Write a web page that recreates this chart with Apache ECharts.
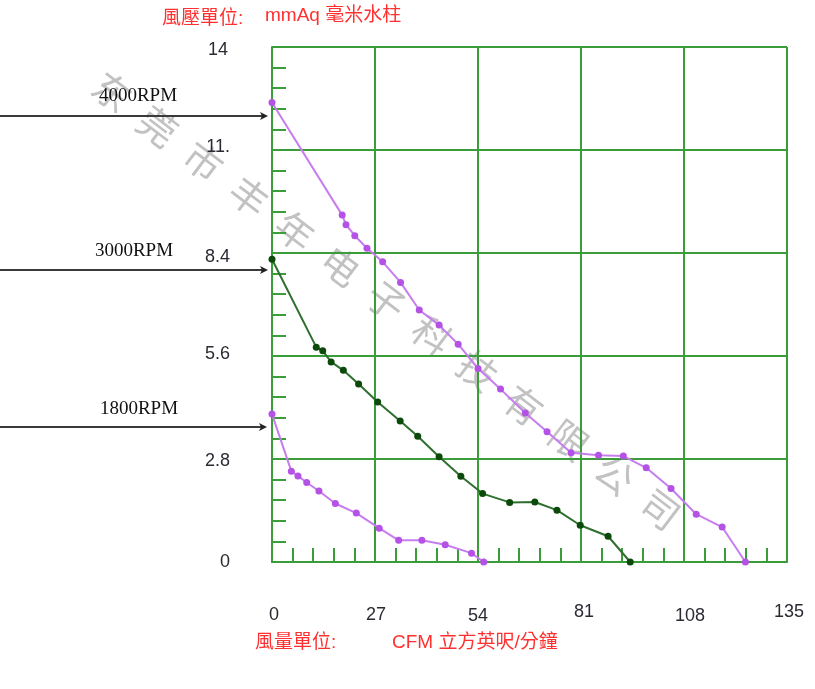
<!DOCTYPE html>
<html>
<head>
<meta charset="utf-8">
<script src="https://cdn.jsdelivr.net/npm/echarts@6/dist/echarts.min.js"></script>
<style>html,body{margin:0;padding:0;background:#fff;}#c{width:815px;height:689px;}</style>
</head>
<body>
<div id="c"></div>
<script>
// ---- data ----
const xTickLabels = ['0', '27', '54', '81', '108', '135'];
const yTickLabels = ['0', '2.8', '5.6', '8.4', '11.', '14'];
const seriesNames = ['4000RPM', '3000RPM', '1800RPM'];

const rpm4000X = [0, 18.4, 19.4, 21.7, 24.9, 29.0, 33.7, 38.6, 43.8, 48.8, 54.0, 59.9, 66.4, 72.1, 78.4, 85.6, 92.1, 98.1, 104.6, 111.2, 118.0, 124.1];
const rpm4000Y = [12.49, 9.43, 9.17, 8.87, 8.53, 8.16, 7.60, 6.85, 6.44, 5.92, 5.26, 4.70, 4.05, 3.54, 2.97, 2.90, 2.88, 2.56, 2.00, 1.30, 0.95, 0];

const rpm3000X = [0, 11.6, 13.3, 15.5, 18.7, 22.7, 27.7, 33.6, 38.2, 43.8, 49.5, 55.2, 62.3, 68.9, 74.7, 80.8, 88.1, 93.9];
const rpm3000Y = [8.23, 5.84, 5.74, 5.44, 5.21, 4.84, 4.35, 3.83, 3.42, 2.86, 2.33, 1.86, 1.62, 1.63, 1.41, 1.00, 0.70, 0];

const rpm1800X = [0, 5.07, 6.8, 9.1, 12.3, 16.6, 22.1, 28.1, 33.2, 39.3, 45.4, 52.3, 55.5];
const rpm1800Y = [4.02, 2.47, 2.34, 2.16, 1.93, 1.59, 1.33, 0.92, 0.59, 0.59, 0.47, 0.24, 0];

const watermarkText = '东莞市丰年电子科技有限公司';

// ---- style / layout ----
const GRID_GREEN = '#3a9d3a';
const RED = '#ff3030';
const LABEL_COLOR = '#2a2a33';
const xNudge = [[2, 0], [1, 0], [0, 1], [3, -3], [6, 1], [2, -3]];
const yNudge = [[0, 0], [0, 2], [1, -2], [0, 4], [0, -3], [-2, 3]];

function pts(xs, ys) { return xs.map((x, i) => [x, ys[i]]); }

function richFor(nudges, axis) {
  const r = {};
  nudges.forEach((n, i) => {
    const dx = n[0], dy = n[1];
    let pad;
    if (axis === 'x') {
      pad = [dy > 0 ? 2 * dy : 0, dx < 0 ? -2 * dx : 0, dy < 0 ? -2 * dy : 0, dx > 0 ? 2 * dx : 0];
    } else {
      pad = [dy > 0 ? 2 * dy : 0, dx < 0 ? -dx : 0, dy < 0 ? -2 * dy : 0, 0];
    }
    r['n' + i] = { fontSize: 18, fontFamily: 'Liberation Sans', color: LABEL_COLOR, padding: pad };
  });
  return r;
}

const chart = echarts.init(document.getElementById('c'), null, { renderer: 'canvas' });

const graphics = [];
// watermark
const wmStart = [112, 92], wmStep = [45.7, 34.8];
for (let i = 0; i < watermarkText.length; i++) {
  graphics.push({
    type: 'text', z: -10,
    x: wmStart[0] + wmStep[0] * i, y: wmStart[1] + wmStep[1] * i,
    rotation: -0.649,
    style: {
      text: watermarkText[i], fill: '#c2c2c2',
      font: '38px "Noto Sans CJK SC"',
      align: 'center', verticalAlign: 'middle', textAlign: 'center', textVerticalAlign: 'middle'
    }
  });
}
// RPM annotations with arrows
const arrows = [
  { label: seriesNames[0], y: 116, tx: 138, ty: 96, end: 268 },
  { label: seriesNames[1], y: 270, tx: 134, ty: 251, end: 268 },
  { label: seriesNames[2], y: 427, tx: 139, ty: 409, end: 267 }
];
arrows.forEach(a => {
  graphics.push({
    type: 'line', z: 5,
    shape: { x1: 0, y1: a.y, x2: a.end - 2, y2: a.y },
    style: { stroke: '#3a3a3a', lineWidth: 1.8 }
  });
  graphics.push({
    type: 'polygon', z: 5,
    shape: { points: [[a.end - 8, a.y - 4], [a.end, a.y], [a.end - 8, a.y + 4], [a.end - 6, a.y]] },
    style: { fill: '#222' }
  });
  graphics.push({
    type: 'text', z: 5, x: a.tx, y: a.ty,
    style: {
      text: a.label, fill: '#111', font: '19px "Liberation Serif"',
      align: 'center', verticalAlign: 'middle', textAlign: 'center', textVerticalAlign: 'middle'
    }
  });
});
// unit titles
const titles = [
  { text: '風壓單位:', x: 162, y: 19 },
  { text: 'mmAq 毫米水柱', x: 265, y: 16 },
  { text: '風量單位:', x: 255, y: 643 },
  { text: 'CFM 立方英呎/分鐘', x: 392, y: 643 }
];
titles.forEach(t => {
  graphics.push({
    type: 'text', z: 5, x: t.x, y: t.y,
    style: {
      text: t.text, fill: RED, font: '19px "Liberation Sans", "Noto Sans CJK TC"',
      align: 'left', verticalAlign: 'middle', textAlign: 'left', textVerticalAlign: 'middle'
    }
  });
});

function lineSeries(name, data, lineColor, dotColor, width) {
  return {
    name: name, type: 'line', data: data, z: 3,
    symbol: 'circle', symbolSize: 7, showSymbol: true,
    lineStyle: { color: lineColor, width: width },
    itemStyle: { color: dotColor, borderWidth: 0 },
    emphasis: { disabled: true },
    animation: false
  };
}

const option = {
  animation: false,
  backgroundColor: '#fff',
  grid: { left: 272, top: 47, width: 515, height: 515, containLabel: false },
  xAxis: {
    type: 'value', min: 0, max: 135, interval: 27,
    axisLine: { show: true, onZero: false, lineStyle: { color: GRID_GREEN, width: 2 } },
    axisTick: { show: false, inside: true },
    minorTick: { show: true, splitNumber: 5, length: 14, lineStyle: { color: GRID_GREEN, width: 2 } },
    splitLine: { show: true, lineStyle: { color: GRID_GREEN, width: 2 } },
    minorSplitLine: { show: false },
    axisLabel: {
      margin: 53, verticalAlign: 'middle',
      formatter: (v) => { const i = Math.round(v / 27); return '{n' + i + '|' + xTickLabels[i] + '}'; },
      rich: richFor(xNudge, 'x')
    }
  },
  yAxis: {
    type: 'value', min: 0, max: 14, interval: 2.8,
    axisLine: { show: true, onZero: false, lineStyle: { color: GRID_GREEN, width: 2 } },
    axisTick: { show: false, inside: true },
    minorTick: { show: true, splitNumber: 5, length: 14, lineStyle: { color: GRID_GREEN, width: 2 } },
    splitLine: { show: true, lineStyle: { color: GRID_GREEN, width: 2 } },
    minorSplitLine: { show: false },
    axisLabel: {
      margin: 42, verticalAlign: 'middle', align: 'right',
      formatter: (v) => { const i = Math.round(v / 2.8); return '{n' + i + '|' + yTickLabels[i] + '}'; },
      rich: richFor(yNudge, 'y')
    }
  },
  series: [
    lineSeries(seriesNames[0], pts(rpm4000X, rpm4000Y), '#c77df0', '#b552e6', 2),
    lineSeries(seriesNames[1], pts(rpm3000X, rpm3000Y), '#2f6f2f', '#0c4a0c', 2),
    lineSeries(seriesNames[2], pts(rpm1800X, rpm1800Y), '#c77df0', '#b552e6', 2)
  ],
  graphic: { elements: graphics }
};
chart.setOption(option);
</script>
</body>
</html>
